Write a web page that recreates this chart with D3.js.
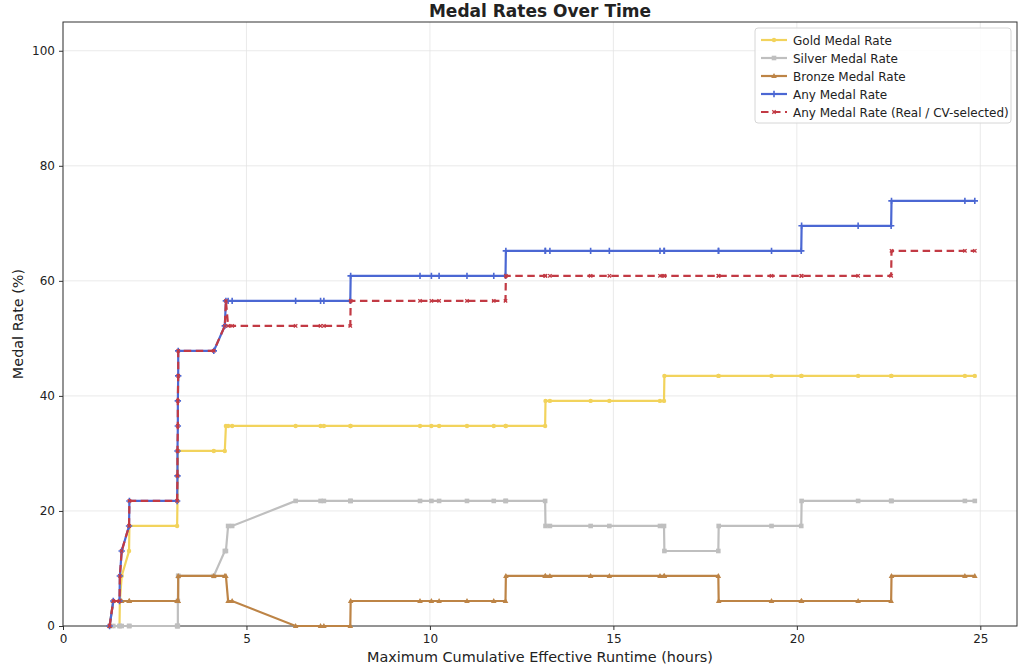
<!DOCTYPE html>
<html>
<head>
<meta charset="utf-8">
<script src="https://cdn.jsdelivr.net/npm/d3@7"></script>
<style>
  body { margin: 0; background: #fff; }
  text { font-family: "DejaVu Sans", sans-serif; fill: #222; }
</style>
</head>
<body>
<div id="chart"></div>
<script>
// runtime points (hours), shared by all series
var runtimeHours = [1.27, 1.37, 1.54, 1.55, 1.60, 1.80, 1.81, 3.11, 3.12, 3.12, 3.13, 3.13, 3.14, 3.14,
    4.11, 4.41, 4.44, 4.50, 4.61, 6.34, 7.02, 7.11, 7.83, 7.84, 9.73, 10.04, 10.25, 11.01, 11.74,
    12.06, 12.07, 13.14, 13.15, 13.27, 14.38, 14.89, 16.27, 16.38, 16.39, 17.86, 17.87, 19.31,
    20.12, 20.13, 21.67, 22.57, 22.58, 24.58, 24.85];

var goldRate = [0, 0, 0, 4.35, 8.70, 13.04, 17.39, 17.39, 21.74, 26.09, 30.43, 30.43, 30.43, 30.43,
    30.43, 30.43, 34.78, 34.78, 34.78, 34.78, 34.78, 34.78, 34.78, 34.78, 34.78, 34.78, 34.78, 34.78, 34.78,
    34.78, 34.78, 34.78, 39.13, 39.13, 39.13, 39.13, 39.13, 39.13, 43.48, 43.48, 43.48, 43.48,
    43.48, 43.48, 43.48, 43.48, 43.48, 43.48, 43.48];

var silverRate = [0, 0, 0, 0, 0, 0, 0, 0, 0, 0, 0, 4.35, 8.70, 8.70,
    8.70, 13.04, 13.04, 17.39, 17.39, 21.74, 21.74, 21.74, 21.74, 21.74, 21.74, 21.74, 21.74, 21.74, 21.74,
    21.74, 21.74, 21.74, 17.39, 17.39, 17.39, 17.39, 17.39, 17.39, 13.04, 13.04, 17.39, 17.39,
    17.39, 21.74, 21.74, 21.74, 21.74, 21.74, 21.74];

var bronzeRate = [0, 4.35, 4.35, 4.35, 4.35, 4.35, 4.35, 4.35, 4.35, 4.35, 4.35, 4.35, 4.35, 8.70,
    8.70, 8.70, 8.70, 4.35, 4.35, 0, 0, 0, 0, 4.35, 4.35, 4.35, 4.35, 4.35, 4.35,
    4.35, 8.70, 8.70, 8.70, 8.70, 8.70, 8.70, 8.70, 8.70, 8.70, 8.70, 4.35, 4.35,
    4.35, 4.35, 4.35, 4.35, 8.70, 8.70, 8.70];

var anyRate = [0, 4.35, 4.35, 8.70, 13.04, 17.39, 21.74, 21.74, 26.09, 30.43, 34.78, 39.13, 43.48, 47.83,
    47.83, 52.17, 56.52, 56.52, 56.52, 56.52, 56.52, 56.52, 56.52, 60.87, 60.87, 60.87, 60.87, 60.87, 60.87,
    60.87, 65.22, 65.22, 65.22, 65.22, 65.22, 65.22, 65.22, 65.22, 65.22, 65.22, 65.22, 65.22,
    65.22, 69.57, 69.57, 69.57, 73.91, 73.91, 73.91];

var anyRealRate = [0, 4.35, 4.35, 8.70, 13.04, 17.39, 21.74, 21.74, 26.09, 30.43, 34.78, 39.13, 43.48, 47.83,
    47.83, 52.17, 56.52, 52.17, 52.17, 52.17, 52.17, 52.17, 52.17, 56.52, 56.52, 56.52, 56.52, 56.52, 56.52,
    56.52, 60.87, 60.87, 60.87, 60.87, 60.87, 60.87, 60.87, 60.87, 60.87, 60.87, 60.87, 60.87,
    60.87, 60.87, 60.87, 60.87, 65.22, 65.22, 65.22];

var seriesNames = ["Gold Medal Rate", "Silver Medal Rate", "Bronze Medal Rate", "Any Medal Rate",
    "Any Medal Rate (Real / CV-selected)"];
var xTicks = [0, 5, 10, 15, 20, 25];
var yTicks = [0, 20, 40, 60, 80, 100];

var svgWidth = 1024, svgHeight = 669;
var margin = {top: 22, right: 7, bottom: 43, left: 63};
var width = svgWidth - margin.left - margin.right;
var height = svgHeight - margin.top - margin.bottom;

var svg = d3.select("#chart").append("svg")
    .attr("width", svgWidth)
    .attr("height", svgHeight);
var g = svg.append("g")
    .attr("transform", `translate(${margin.left}, ${margin.top})`);

var x = d3.scaleLinear().domain([0, 26]).range([0, width]);
var y = d3.scaleLinear().domain([0, 105]).range([height, 0]);

// grid
g.append("g").selectAll("line").data(xTicks).enter().append("line")
    .attr("x1", d => x(d)).attr("x2", d => x(d))
    .attr("y1", 0).attr("y2", height)
    .attr("stroke", "#e4e4e4").attr("stroke-width", 0.8);
g.append("g").selectAll("line").data(yTicks).enter().append("line")
    .attr("y1", d => y(d)).attr("y2", d => y(d))
    .attr("x1", 0).attr("x2", width)
    .attr("stroke", "#e4e4e4").attr("stroke-width", 0.8);

// axes
var xAxis = g.append("g")
    .attr("transform", `translate(0, ${height})`)
    .call(d3.axisBottom(x).tickValues(xTicks).tickSize(4).tickPadding(4));
var yAxis = g.append("g")
    .call(d3.axisLeft(y).tickValues(yTicks).tickSize(4).tickPadding(4));
[xAxis, yAxis].forEach(a => {
    a.selectAll("text").style("font-size", "12px").style("fill", "#222")
        .style("font-family", "DejaVu Sans, sans-serif");
    a.selectAll("line").attr("stroke", "#333");
    a.select(".domain").remove();
});

// frame
g.append("rect")
    .attr("width", width).attr("height", height)
    .attr("fill", "none").attr("stroke", "#333").attr("stroke-width", 1);

var series = [
    {name: seriesNames[0], vals: goldRate, color: "#f2d35c", marker: "circle", dash: null},
    {name: seriesNames[1], vals: silverRate, color: "#bfbfbf", marker: "square", dash: null},
    {name: seriesNames[2], vals: bronzeRate, color: "#bd8446", marker: "triangle", dash: null},
    {name: seriesNames[3], vals: anyRate, color: "#4b67d3", marker: "plus", dash: null},
    {name: seriesNames[4], vals: anyRealRate, color: "#c23a44", marker: "cross", dash: "7.5,4.5"}
];

var line = d3.line().x(d => x(d[0])).y(d => y(d[1]));

function drawMarker(sel, type, color) {
    if (type === "circle") {
        sel.append("circle").attr("r", 2.2).attr("fill", color);
    } else if (type === "square") {
        sel.append("rect").attr("x", -2.3).attr("y", -2.3).attr("width", 4.6).attr("height", 4.6)
            .attr("fill", color);
    } else if (type === "triangle") {
        sel.append("path").attr("d", "M0,-3L2.8,2L-2.8,2Z").attr("fill", color);
    } else if (type === "plus") {
        sel.append("path").attr("d", "M-3.2,0H3.2M0,-3.2V3.2")
            .attr("stroke", color).attr("stroke-width", 1.6);
    } else {
        sel.append("path").attr("d", "M-1.7,-1.7L1.7,1.7M-1.7,1.7L1.7,-1.7")
            .attr("stroke", color).attr("stroke-width", 1.3);
    }
}

series.forEach(s => {
    var pts = runtimeHours.map((h, i) => [h, s.vals[i]]);
    g.append("path")
        .datum(pts)
        .attr("d", line)
        .attr("fill", "none")
        .attr("stroke", s.color)
        .attr("stroke-width", 2.2)
        .attr("stroke-dasharray", s.dash);
    g.append("g").selectAll("g").data(pts).enter().append("g")
        .attr("transform", d => `translate(${x(d[0])},${y(d[1])})`)
        .each(function() { drawMarker(d3.select(this), s.marker, s.color); });
});

// title and axis labels
svg.append("text")
    .attr("x", margin.left + width / 2).attr("y", 17)
    .attr("text-anchor", "middle")
    .style("font-size", "17px").style("font-weight", "bold")
    .text("Medal Rates Over Time");
svg.append("text")
    .attr("x", margin.left + width / 2).attr("y", 662)
    .attr("text-anchor", "middle")
    .style("font-size", "14.4px")
    .text("Maximum Cumulative Effective Runtime (hours)");
svg.append("text")
    .attr("transform", `translate(23, ${margin.top + height / 2}) rotate(-90)`)
    .attr("text-anchor", "middle")
    .style("font-size", "14.4px")
    .text("Medal Rate (%)");

// legend
var legend = svg.append("g").attr("transform", "translate(755, 28)");
legend.append("rect")
    .attr("width", 256).attr("height", 95).attr("rx", 3)
    .attr("fill", "#fff").attr("fill-opacity", 0.85)
    .attr("stroke", "#d6d6d6");
series.forEach((s, i) => {
    var row = legend.append("g").attr("transform", `translate(0, ${12 + i * 18})`);
    row.append("line").attr("x1", 6).attr("x2", 32).attr("y1", 0).attr("y2", 0)
        .attr("stroke", s.color).attr("stroke-width", 2.2).attr("stroke-dasharray", s.dash);
    drawMarker(row.append("g").attr("transform", "translate(19,0)"), s.marker, s.color);
    row.append("text").attr("x", 38).attr("y", 4.5)
        .style("font-size", "12px").text(s.name);
});
</script>
</body>
</html>
